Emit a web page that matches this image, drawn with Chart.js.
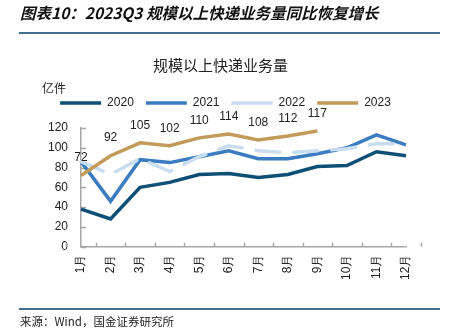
<!DOCTYPE html>
<html>
<head>
<meta charset="utf-8">
<script src="https://cdn.jsdelivr.net/npm/chart.js@4.4.0/dist/chart.umd.min.js"></script>
<style>
  html, body { margin: 0; padding: 0; background: #fff; }
  #wrap { position: relative; width: 451px; height: 331px; overflow: hidden; font-family: "Noto Sans CJK SC", sans-serif; }
  #head { position: absolute; left: 20px; top: 1px; font-size: 15.5px; font-weight: bold; font-style: italic; color: #111; white-space: nowrap; line-height: 22px; }
  .rule { position: absolute; left: 19px; width: 421px; height: 2px; background: #41708f; }
  #unit { position: absolute; left: 42px; top: 80px; font-size: 12px; line-height: 16px; color: #222; }
  #src { position: absolute; left: 20px; top: 313px; font-size: 11.5px; line-height: 16px; color: #222; white-space: nowrap; }
  canvas { position: absolute; left: 0; top: 0; }
</style>
</head>
<body>
<div id="wrap">
  <canvas id="c" width="451" height="331"></canvas>
  <div id="head">图表10：2023Q3 规模以上快递业务量同比恢复增长</div>
  <div class="rule" style="top:32px"></div>
  <div id="unit">亿件</div>
  <div class="rule" style="top:308px"></div>
  <div id="src">来源：Wind，国金证券研究所</div>
</div>
<script>
// Monthly express delivery volume (100 million pieces)
const months = ['1月', '2月', '3月', '4月', '5月', '6月', '7月', '8月', '9月', '10月', '11月', '12月'];
const seriesNames = ['2020', '2021', '2022', '2023'];
const v2020 = [38, 28, 60, 65, 73, 74, 70, 73, 81, 82, 96, 92];
const v2021 = [86, 46, 88, 85, 91, 97, 89, 89, 94, 100, 113, 103];
const v2022 = [86, 73, 89, 76, 91, 102, 97, 95, 97, 99, 104, 104];
const v2023 = [72, 92, 105, 102, 110, 114, 108, 112, 117];
const yTicks = [0, 20, 40, 60, 80, 100, 120];

const AXIS = '#a6a6a6';
const TXT = '#222';
const FONT = '"Liberation Sans", Arial, sans-serif';

// Short tick marks pointing into the plot area
const innerTicks = {
  id: 'innerTicks',
  beforeDatasetsDraw(chart) {
    const { ctx, scales: { x, y } } = chart;
    ctx.save();
    ctx.strokeStyle = AXIS;
    ctx.lineWidth = 1.5;
    ctx.beginPath();
    yTicks.forEach(v => {
      const py = Math.round(y.getPixelForValue(v)) + 0.5;
      ctx.moveTo(x.left, py);
      ctx.lineTo(x.left + 5, py);
    });
    for (let i = 0; i <= months.length; i++) {
      const px = Math.round(x.getPixelForValue(i - 0.5)) + 0.5;
      ctx.moveTo(px, y.bottom);
      ctx.lineTo(px, y.bottom - 4);
    }
    ctx.stroke();
    ctx.restore();
  }
};

// Value labels above the 2023 line
const valueLabels = {
  id: 'valueLabels',
  afterDatasetsDraw(chart) {
    const { ctx } = chart;
    const meta = chart.getDatasetMeta(3);
    ctx.save();
    ctx.font = '12px ' + FONT;
    ctx.fillStyle = TXT;
    ctx.textAlign = 'center';
    ctx.textBaseline = 'middle';
    meta.data.forEach((pt, i) => {
      ctx.fillText(String(v2023[i]), pt.x, pt.y - 17.5);
    });
    ctx.restore();
  }
};

// Extra room under the legend, and centre it on the page
const legendPlacement = {
  id: 'legendPlacement',
  beforeInit(chart) {
    const fit = chart.legend.fit;
    chart.legend.fit = function () {
      fit.call(this);
      this.height += 9;
    };
  },
  afterLayout(chart) {
    chart.legend.left += 5;
    chart.legend.right += 5;
  }
};

function line(label, data, color, order, extra) {
  return Object.assign({
    label, data, order,
    borderColor: color,
    backgroundColor: color,
    borderWidth: 3.5,
    pointRadius: 0,
    pointHoverRadius: 0,
    tension: 0,
    fill: false,
    borderCapStyle: 'butt',
    borderJoinStyle: 'miter'
  }, extra || {});
}

new Chart(document.getElementById('c'), {
  type: 'line',
  data: {
    labels: months,
    datasets: [
      line(seriesNames[0], v2020, '#0e4f76', 4),
      line(seriesNames[1], v2021, '#3b7cc0', 3),
      line(seriesNames[2], v2022, '#c9ddf1', 2, { borderDash: [24, 14], borderCapStyle: 'round' }),
      line(seriesNames[3], v2023, '#c29a5a', 1)
    ]
  },
  options: {
    responsive: false,
    animation: false,
    layout: { padding: { top: 56, left: 35, right: 45, bottom: 43 } },
    plugins: {
      title: {
        display: true,
        text: '规模以上快递业务量',
        color: TXT,
        font: { family: '"Noto Sans CJK SC", sans-serif', size: 15, weight: 'normal' },
        padding: { top: 0, bottom: 11 }
      },
      legend: {
        position: 'top',
        labels: {
          usePointStyle: true,
          pointStyle: 'line',
          pointStyleWidth: 41,
          boxHeight: 12,
          padding: 12,
          color: TXT,
          font: { family: FONT, size: 12 },
          sort: (a, b) => a.datasetIndex - b.datasetIndex
        }
      },
      tooltip: { enabled: false }
    },
    scales: {
      x: {
        grid: { display: false, drawTicks: false },
        border: { display: true, color: AXIS, width: 1.5 },
        ticks: {
          color: TXT,
          font: { family: FONT, size: 12 },
          minRotation: 90,
          maxRotation: 90,
          autoSkip: false,
          padding: 8
        }
      },
      y: {
        min: 0,
        max: 120,
        grid: { display: false, drawTicks: false },
        border: { display: true, color: AXIS, width: 1.5 },
        ticks: {
          color: TXT,
          font: { family: FONT, size: 12 },
          stepSize: 20,
          padding: 13
        }
      }
    }
  },
  plugins: [innerTicks, valueLabels, legendPlacement]
});
</script>
</body>
</html>
